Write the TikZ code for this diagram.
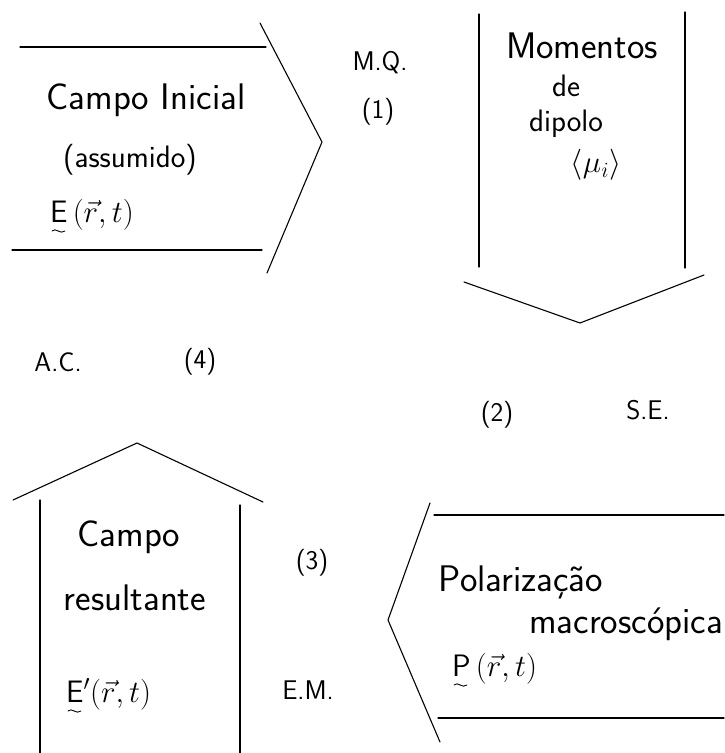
\RequirePackage{fix-cm}
\documentclass[tikz,border=0pt]{standalone}
\usepackage{amsmath}
\tikzset{
  ln/.style={line width=1.1pt, line cap=round, line join=miter},
  tl/.style={line width=0.9pt, line cap=round},
  big/.style={font=\sffamily\fontsize{37}{44}\selectfont, inner sep=0pt},
  mid/.style={font=\sffamily\fontsize{31}{36}\selectfont, inner sep=0pt},
  sml/.style={font=\sffamily\fontsize{27}{32}\selectfont, inner sep=0pt},
}
\begin{document}
\begin{tikzpicture}[x=1pt,y=-1pt]
\useasboundingbox (0,0) rectangle (724,753);
% shape 1: Campo Inicial (arrow right)
\draw[ln] (20,47) -- (266,47);
\draw[ln] (12,250) -- (262,250);
\draw[ln] (260,23) -- (322,142) -- (267,273);
% shape 2: Momentos (arrow down)
\draw[ln] (479,14) -- (479,267);
\draw[ln] (685,12) -- (685,268);
\draw[ln] (464,282) -- (580,323) -- (704,275);
% shape 3: Campo resultante (arrow up)
\draw[ln] (40,500) -- (40,753);
\draw[ln] (240,505) -- (240,753);
\draw[ln] (13,500) -- (137,443) -- (263,502);
% shape 4: Polarizacao (arrow left)
\draw[ln] (434,515) -- (724,515);
\draw[ln] (438,718) -- (724,718);
\draw[ln] (430,503) -- (388,620) -- (440,742);
% texts
\node[big] (ci) at (146,100) {Campo Inicial};
\node[mid] (as) at (130,160) {(assumido)};
\node[mid, anchor=base west] (e1) at (50,222) {E\,$(\vec{r},t)$};
\draw[tl, shift={(e1.base west)}] (2,9) .. controls (6,5) and (10,13) .. (15,9);
\node[sml] (mq) at (380,63) {M.Q.};
\node[sml] (n1) at (378,112) {(1)};
\node[big] (mo) at (582,46) {Momentos};
\node[mid] (de) at (566,86) {de};
\node[mid] (di) at (566,124) {dipolo};
\node[mid] (mu) at (596,165) {$\langle\mu_i\rangle$};
\node[sml] (ac) at (58,362) {A.C.};
\node[sml] (n4) at (200,362) {(4)};
\node[sml] (n2) at (497,415) {(2)};
\node[sml] (se) at (648,410) {S.E.};
\node[big] (c2) at (129,537) {Campo};
\node[big] (re) at (135,598) {resultante};
\node[mid, anchor=base west] (e2) at (66,702) {E$'(\vec{r},t)$};
\draw[tl, shift={(e2.base west)}] (2,9) .. controls (6,5) and (10,13) .. (15,9);
\node[sml] (n3) at (312,563) {(3)};
\node[sml] (em) at (308,690) {E.M.};
\node[big] (po) at (521,582) {Polarização};
\node[big] (ma) at (626,624) {macroscópica};
\node[mid, anchor=base west] (p1) at (452,676) {P\,$(\vec{r},t)$};
\draw[tl, shift={(p1.base west)}] (2,9) .. controls (6,5) and (10,13) .. (15,9);
\end{tikzpicture}
\end{document}
